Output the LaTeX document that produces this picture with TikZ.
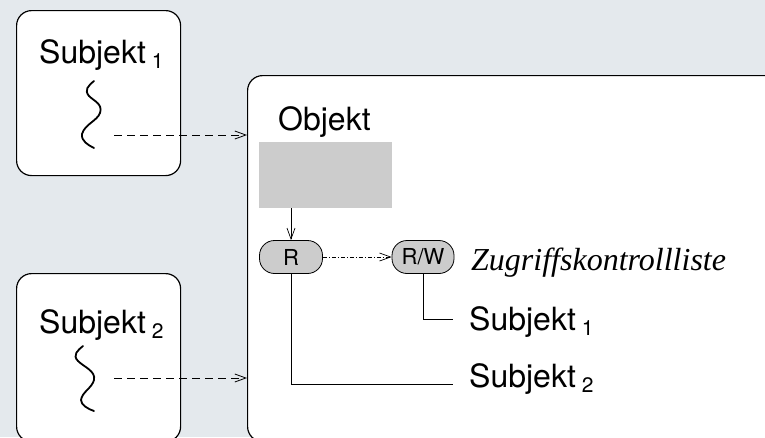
\documentclass[tikz,border=0pt]{standalone}
\usepackage{fontspec}
\setmainfont{TeX Gyre Heros}
\newfontfamily\serifit{Liberation Serif}
\usetikzlibrary{arrows.meta}
\definecolor{bgcol}{HTML}{E4E9ED}
\definecolor{fillgrey}{HTML}{CCCCCC}
\tikzset{
  roundbox/.style={draw=black, line width=1.2pt, fill=white, rounded corners=15pt, inner sep=0pt},
  pill/.style={draw=black, line width=0.8pt, fill=fillgrey, rounded corners=15pt, minimum height=33pt, inner sep=0pt, font=\fontsize{22}{22}\selectfont},
  bigtext/.style={inner sep=0pt, anchor=base west, font=\fontsize{32}{38}\selectfont},
  squig/.style={line width=1.8pt, line cap=round},
  dasharrow/.style={line width=0.8pt, dash pattern=on 8pt off 5pt, -{Straight Barb[length=11pt,width=8pt]}},
  dotarrow/.style={line width=0.7pt, dash pattern=on 4pt off 2pt on 1pt off 2pt, -{Straight Barb[length=11pt,width=8pt]}},
  solidarrow/.style={line width=0.7pt, -{Straight Barb[length=11pt,width=8pt]}},
  link/.style={line width=0.7pt}
}
\newcommand{\subj}[1]{Subjekt\hspace{6pt}\raisebox{-5pt}{\fontsize{21}{21}\selectfont #1}}
\begin{document}
\begin{tikzpicture}[x=1pt,y=-1pt]
\useasboundingbox (0,0) rectangle (765,437);
\fill[bgcol] (0,0) rectangle (765,437);
\begin{scope}
\clip (0,0) rectangle (765,437);
% subject boxes
\node[roundbox, minimum width=164pt, minimum height=165pt, anchor=north west] (s1box) at (16,10) {};
\node[roundbox, minimum width=164pt, minimum height=168pt, anchor=north west] (s2box) at (16,273) {};
% object box
\node[roundbox, minimum width=535pt, minimum height=366pt, anchor=north west] (obox) at (247,75) {};
\end{scope}
% labels in subject boxes
\node[bigtext] (s1lab) at (39,63) {\subj{1}};
\node[bigtext] (s2lab) at (39,333) {\subj{2}};
% squiggles
\draw[squig] (94,81) .. controls (88,86) and (84,90) .. (89,96)
  .. controls (94,101) and (103,104) .. (100,113)
  .. controls (97,121) and (85,124) .. (82,134)
  .. controls (81,141) and (88,145) .. (94,148);
\draw[squig] (83,346) .. controls (78,350) and (72,355) .. (78,361)
  .. controls (84,367) and (96,371) .. (94,380)
  .. controls (92,388) and (82,392) .. (81,400)
  .. controls (81,405) and (88,409) .. (94,411);
% dashed arrows
\coordinate (t1) at (114,135);
\coordinate (t2) at (114,378);
\draw[dasharrow] (t1) -- (t1 -| obox.west);
\draw[dasharrow] (t2) -- (t2 -| obox.west);
% object
\node[bigtext] (olab) at (278,130) {Objekt};
\node[fill=fillgrey, minimum width=133pt, minimum height=66pt, inner sep=0pt, anchor=north west] (orect) at (259,142) {};
\node[pill, minimum width=63pt] (r) at (291,257) {R};
\node[pill, minimum width=62pt] (rw) at (423,257) {R/W};
\draw[solidarrow] (orect.south -| r) -- (r.north);
\draw[dotarrow] (r.east) -- (rw.west);
\node[inner sep=0pt, anchor=base west, font=\serifit\itshape\fontsize{32}{38}\selectfont] (zkl) at (471,270) {Zugriffskontrollliste};
% ACL entries
\node[bigtext] (e1) at (469,330) {\subj{1}};
\node[bigtext] (e2) at (469,387) {\subj{2}};
\coordinate (c1) at (453,319);
\coordinate (c2) at (453,384);
\draw[link] (rw.south) |- (c1);
\draw[link] (r.south) |- (c2);
\end{tikzpicture}
\end{document}
